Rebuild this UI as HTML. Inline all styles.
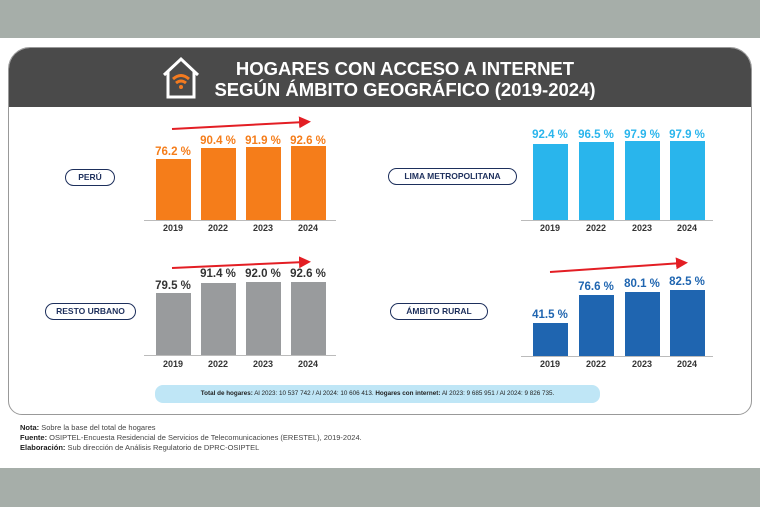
<!DOCTYPE html>
<html><head><meta charset="utf-8"><style>
*{margin:0;padding:0;box-sizing:border-box}
body{width:760px;height:507px;background:#fff;position:relative;overflow:hidden;font-family:"Liberation Sans","DejaVu Sans",sans-serif}
.a{position:absolute}
.bar{position:absolute;width:35px}
.v{position:absolute;width:60px;text-align:center;font-weight:bold;font-size:11.5px}
.y{position:absolute;width:40px;text-align:center;font-size:9px;font-weight:bold;color:#333}
.pill{position:absolute;border:1.5px solid #1d2f5c;border-radius:9px;font-size:8.5px;font-weight:bold;color:#1d2f5c;text-align:center;line-height:14px}
.ax{position:absolute;height:1px;background:#bbb}
</style></head><body>
<div class="a" style="left:0;top:0;width:760px;height:38px;background:#a6aea9"></div>
<div class="a" style="left:0;top:468px;width:760px;height:39px;background:#a6aea9"></div>
<div class="a" style="left:8px;top:47px;width:744px;height:368px;border:1px solid #999;border-radius:22px 22px 14px 14px;background:#fff;overflow:hidden">
<div style="height:59px;background:#4a4a4a"></div></div>
<svg class="a" style="left:160px;top:55px" width="42" height="46"><path d="M4 20 L21 4 L38 20 M8 17 V42 H34 V17" fill="none" stroke="#fff" stroke-width="3"/><path d="M13 24 Q21 17 29 24" stroke="#f47b20" stroke-width="3" fill="none"/><path d="M16 28 Q21 24 26 28" stroke="#f47b20" stroke-width="3" fill="none"/><circle cx="21" cy="32" r="2" fill="#f47b20"/></svg>
<div class="a" style="left:205px;top:58px;width:400px;font-size:18.5px;font-weight:bold;color:#fff;line-height:21px;text-align:center">HOGARES CON ACCESO A INTERNET<br>SEGÚN ÁMBITO GEOGRÁFICO (2019-2024)</div>

<div class="pill" style="left:65px;top:169px;width:50px;height:17px">PERÚ</div>
<div class="pill" style="left:388px;top:168px;width:129px;height:17px">LIMA METROPOLITANA</div>
<div class="pill" style="left:45px;top:303px;width:91px;height:17px">RESTO URBANO</div>
<div class="pill" style="left:390px;top:303px;width:98px;height:17px">ÁMBITO RURAL</div>

<!-- Peru -->
<div class="ax" style="left:144px;top:220px;width:192px"></div>
<div class="bar" style="left:156px;top:159px;height:61px;background:#f57d1a"></div>
<div class="bar" style="left:201px;top:148px;height:72px;background:#f57d1a"></div>
<div class="bar" style="left:246px;top:147px;height:73px;background:#f57d1a"></div>
<div class="bar" style="left:291px;top:146px;height:74px;background:#f57d1a"></div>
<div class="v" style="left:143px;top:146px;color:#f57d1a">76.2 %</div>
<div class="v" style="left:188px;top:135px;color:#f57d1a">90.4 %</div>
<div class="v" style="left:233px;top:135px;color:#f57d1a">91.9 %</div>
<div class="v" style="left:278px;top:135px;color:#f57d1a">92.6 %</div>
<div class="y" style="left:153px;top:223px">2019</div><div class="y" style="left:198px;top:223px">2022</div><div class="y" style="left:243px;top:223px">2023</div><div class="y" style="left:288px;top:223px">2024</div>

<!-- Lima -->
<div class="ax" style="left:521px;top:220px;width:192px"></div>
<div class="bar" style="left:533px;top:144px;height:76px;background:#29b5ec"></div>
<div class="bar" style="left:579px;top:142px;height:78px;background:#29b5ec"></div>
<div class="bar" style="left:625px;top:141px;height:79px;background:#29b5ec"></div>
<div class="bar" style="left:670px;top:141px;height:79px;background:#29b5ec"></div>
<div class="v" style="left:520px;top:129px;color:#29b5ec">92.4 %</div>
<div class="v" style="left:566px;top:129px;color:#29b5ec">96.5 %</div>
<div class="v" style="left:612px;top:129px;color:#29b5ec">97.9 %</div>
<div class="v" style="left:657px;top:129px;color:#29b5ec">97.9 %</div>
<div class="y" style="left:530px;top:223px">2019</div><div class="y" style="left:576px;top:223px">2022</div><div class="y" style="left:622px;top:223px">2023</div><div class="y" style="left:667px;top:223px">2024</div>

<!-- Resto -->
<div class="ax" style="left:144px;top:355px;width:192px"></div>
<div class="bar" style="left:156px;top:293px;height:62px;background:#999b9d"></div>
<div class="bar" style="left:201px;top:283px;height:72px;background:#999b9d"></div>
<div class="bar" style="left:246px;top:282px;height:73px;background:#999b9d"></div>
<div class="bar" style="left:291px;top:282px;height:73px;background:#999b9d"></div>
<div class="v" style="left:143px;top:280px;color:#333">79.5 %</div>
<div class="v" style="left:188px;top:268px;color:#333">91.4 %</div>
<div class="v" style="left:233px;top:268px;color:#333">92.0 %</div>
<div class="v" style="left:278px;top:268px;color:#333">92.6 %</div>
<div class="y" style="left:153px;top:359px">2019</div><div class="y" style="left:198px;top:359px">2022</div><div class="y" style="left:243px;top:359px">2023</div><div class="y" style="left:288px;top:359px">2024</div>

<!-- Rural -->
<div class="ax" style="left:521px;top:356px;width:192px"></div>
<div class="bar" style="left:533px;top:323px;height:33px;background:#1f65b0"></div>
<div class="bar" style="left:579px;top:295px;height:61px;background:#1f65b0"></div>
<div class="bar" style="left:625px;top:292px;height:64px;background:#1f65b0"></div>
<div class="bar" style="left:670px;top:290px;height:66px;background:#1f65b0"></div>
<div class="v" style="left:520px;top:309px;color:#1f65b0">41.5 %</div>
<div class="v" style="left:566px;top:281px;color:#1f65b0">76.6 %</div>
<div class="v" style="left:612px;top:278px;color:#1f65b0">80.1 %</div>
<div class="v" style="left:657px;top:276px;color:#1f65b0">82.5 %</div>
<div class="y" style="left:530px;top:359px">2019</div><div class="y" style="left:576px;top:359px">2022</div><div class="y" style="left:622px;top:359px">2023</div><div class="y" style="left:667px;top:359px">2024</div>

<svg class="a" style="left:0;top:0" width="760" height="507">
<defs><marker id="m" markerWidth="6" markerHeight="6" refX="3" refY="3" orient="auto"><path d="M0 0 L6 3 L0 6Z" fill="#e31e24"/></marker></defs>
<line x1="172" y1="129" x2="305" y2="122" stroke="#e31e24" stroke-width="2" marker-end="url(#m)"/>
<line x1="172" y1="268" x2="305" y2="262" stroke="#e31e24" stroke-width="2" marker-end="url(#m)"/>
<line x1="550" y1="272" x2="682" y2="263" stroke="#e31e24" stroke-width="2" marker-end="url(#m)"/>
</svg>

<div class="a" style="left:155px;top:385px;width:445px;height:18px;background:#bfe6f6;border-radius:8px;font-size:6.3px;line-height:18px;text-align:center;color:#222;white-space:nowrap"><b>Total de hogares:</b> Al 2023: 10 537 742 / Al 2024: 10 606 413. <b>Hogares con internet:</b> Al 2023: 9 685 951 / Al 2024: 9 826 735.</div>

<div class="a" style="left:20px;top:423px;font-size:7.5px;line-height:10px;color:#444">
<b style="color:#222">Nota:</b> Sobre la base del total de hogares<br>
<b style="color:#222">Fuente:</b> OSIPTEL-Encuesta Residencial de Servicios de Telecomunicaciones (ERESTEL), 2019-2024.<br>
<b style="color:#222">Elaboración:</b> Sub dirección de Análisis Regulatorio de DPRC-OSIPTEL</div>
</body></html>
